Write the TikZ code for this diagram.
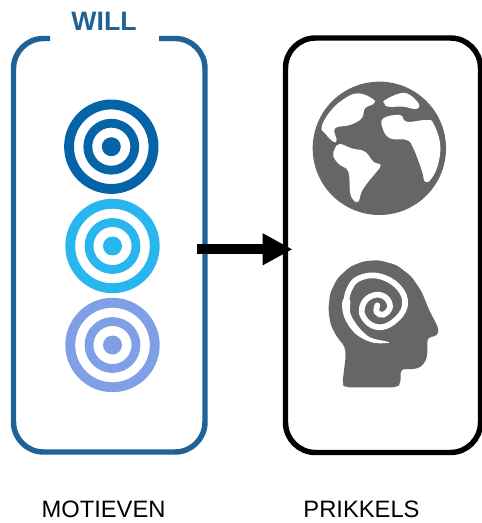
\documentclass[tikz,border=0pt]{standalone}
\usepackage{fontspec}
\setmainfont{Liberation Sans}
\usetikzlibrary{arrows.meta}
\definecolor{boxblue}{HTML}{1F6296}
\definecolor{tdark}{HTML}{0563A8}
\definecolor{tcyan}{HTML}{29B6EE}
\definecolor{tperi}{HTML}{7F9FE6}
\definecolor{icongrey}{HTML}{666666}
\tikzset{
  frame/.style={line width=4.1pt,line join=round,rounded corners=22.5pt},
  caption/.style={font=\fontsize{17.8pt}{20pt}\selectfont,text=black,inner sep=0pt},
  outerring/.style={circle,inner sep=0pt,minimum size=84.5*0.75pt,line width=7.4pt,draw=#1},
  innerring/.style={#1,line width=6.6pt},
}
\begin{document}
\begin{tikzpicture}[x=0.75pt,y=-0.75pt]
\useasboundingbox (0,0) rectangle (481,523);
% left frame with gap
\draw[frame,boxblue] (50,38.5) -- (13.5,38.5) -- (13.5,452) -- (205,452) -- (205,38.5) -- (159,38.5);
\node[font=\bfseries\fontsize{20pt}{24pt}\selectfont,text=boxblue,inner sep=0pt] (will) at (104,21.5) {WILL};
% right frame
\draw[frame,black] (285.5,38) rectangle (480.5,452.5);
% targets
\node[outerring=tdark] (t1) at (111.3,146.7) {};
\draw[innerring=tdark] (t1.center) circle (23.5);
\fill[tdark] (t1.center) circle (9.5);
\node[outerring=tcyan] (t2) at (112.5,246) {};
\draw[innerring=tcyan] (t2.center) circle (23.5);
\fill[tcyan] (t2.center) circle (9.5);
\node[outerring=tperi] (t3) at (112.5,345) {};
\draw[innerring=tperi] (t3.center) circle (23.5);
\fill[tperi] (t3.center) circle (9.5);
% arrow
\coordinate (from) at (197,249.3);
\coordinate (to) at (292.5,249.3);
\draw[line width=7.5pt,-{Triangle[length=22.5pt,width=22.5pt]}] (from) -- (to);
% globe
\begin{scope}[shift={(290,60)},x=0.25pt,y=-0.25pt]
\fill[icongrey] (268,265) circle (200);
\fill[white] plot[smooth cycle,tension=0.7] coordinates {(205,100)(250,118)(250,132)(225,145)(215,175)(180,195)(135,205)(140,240)(130,245)(105,220)(95,200)(120,155)(160,118)};
\fill[white] plot[smooth cycle,tension=0.7] coordinates {(285,120)(330,100)(360,105)(388,135)(375,147)(340,140)(295,140)(283,130)};
\fill[white] plot[smooth cycle,tension=0.7] coordinates {(280,175)(330,165)(350,185)(410,180)(430,190)(450,250)(445,310)(425,355)(405,365)(395,330)(370,265)(350,240)(300,235)(278,205)};
\fill[white] plot[smooth cycle,tension=0.7] coordinates {(150,252)(185,265)(225,275)(250,305)(272,315)(260,335)(235,365)(215,395)(205,425)(190,420)(180,395)(175,335)(150,315)(130,290)(135,265)};
\end{scope}
% head
\begin{scope}[shift={(300,250)},x=0.25pt,y=-0.25pt]
\fill[icongrey,rounded corners=3pt] (127,402) -- (137,320) -- (135,290) -- (110,260) -- (92,225) -- (85,180) -- (90,130) -- (112,85) -- (150,50) -- (190,34) -- (235,30) -- (290,45) -- (335,80) -- (365,125) -- (385,175) -- (417,238) -- (412,258) -- (382,262) -- (382,320) -- (370,345) -- (350,357) -- (302,357) -- (302,400) -- (290,412) -- (135,412) -- cycle;
\fill[white] plot[smooth cycle,tension=0.6] coordinates {(262,279)(215,277)(165,250)(132,200)(128,150)(150,150)(151,190)(175,230)(210,262)(262,275)};
\draw[white,line width=4.3pt,line cap=round] plot[smooth,tension=0.7] coordinates {(232,166)(230,186)(250,194)(270,171)(255,141)(220,136)(190,161)(190,201)(230,231)(280,216)(315,166)(295,111)(235,78)(175,86)(147,120)(139,155)};
\end{scope}
% captions
\node[caption] (mot) at (103.5,509.5) {MOTIEVEN};
\node[caption] (pri) at (361.5,509.5) {PRIKKELS};
\end{tikzpicture}
\end{document}
